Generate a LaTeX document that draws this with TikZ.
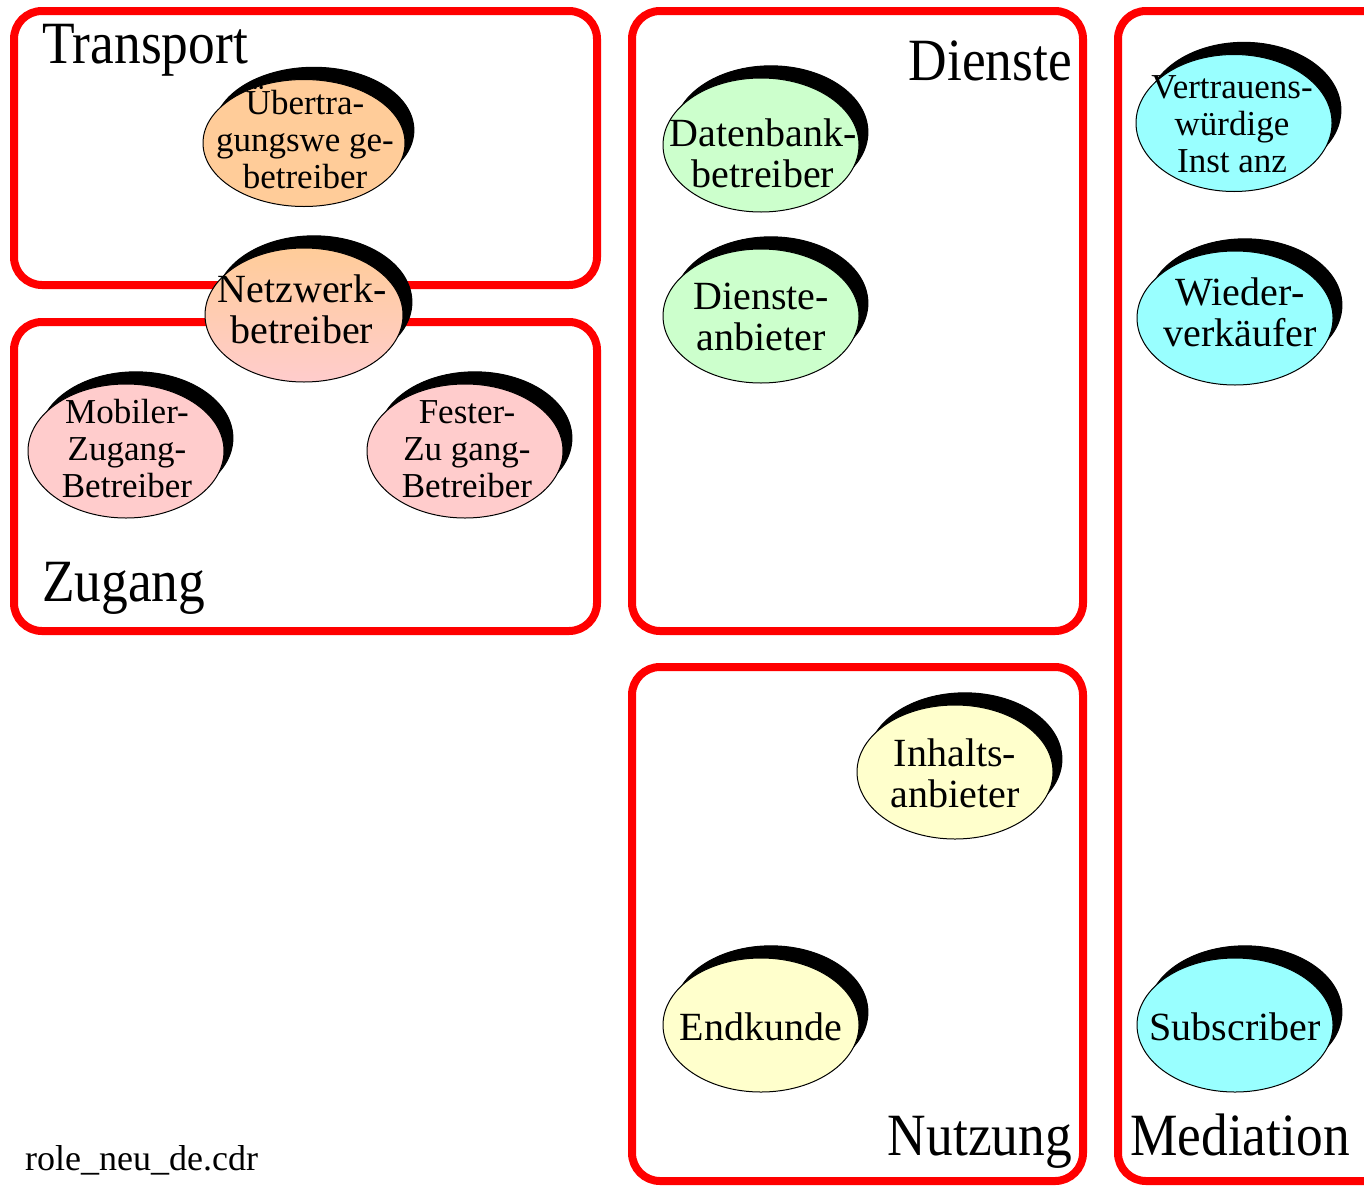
\documentclass[tikz,border=0pt]{standalone}
\usepackage{fontspec}
\setmainfont{Liberation Serif}
\newfontfamily\titlefont[FakeStretch=0.89]{Liberation Serif}
\usetikzlibrary{shapes.geometric,shadows}
\definecolor{peach}{HTML}{FFCC99}
\definecolor{rose}{HTML}{FFCCCC}
\definecolor{mint}{HTML}{CCFFCC}
\definecolor{cream}{HTML}{FFFFCC}
\definecolor{aqua}{HTML}{99FFFF}
\begin{document}
\begin{tikzpicture}[x=1pt,y=-1pt,
  area/.style={draw=red, line width=8pt, rounded corners=28pt},
  role/.style={ellipse, draw=black, line width=1pt, inner sep=0pt,
    minimum width=196pt, minimum height=134pt,
    general shadow={fill=black, draw=black, line width=1pt,
      shadow xshift=10pt, shadow yshift=13pt, shadow scale=0.99}},
  roletext/.style={align=center, inner sep=0pt, font=\fontsize{40}{41}\selectfont},
  smalltext/.style={align=center, inner sep=0pt, font=\fontsize{35}{37}\selectfont},
  areatitle/.style={inner sep=0pt, font=\titlefont\fontsize{60}{60}\selectfont},
]
\useasboundingbox (0,0) rectangle (1364,1186);
\clip (0,0) rectangle (1364,1186);

% domain frames
\draw[area] (14,11) rectangle (597,285);
\draw[area] (14,322) rectangle (597,631);
\draw[area] (632,11) rectangle (1083,631);
\draw[area] (632,667) rectangle (1083,1181);
\draw[area] (1118,11) rectangle (1400,1181);

% frame titles
\node[areatitle, anchor=base west] (ttransport) at (42,63) {Transport};
\node[areatitle, anchor=base west] (tzugang) at (42,601) {Zugang};
\node[areatitle, anchor=base east] (tdienste) at (1072,80) {Dienste};
\node[areatitle, anchor=base east] (tnutzung) at (1072,1155) {Nutzung};
\node[areatitle, anchor=base west] (tmediation) at (1130,1155) {Mediation};

% roles: transport and access
\node[role, fill=peach, minimum width=202pt, minimum height=127pt] (uew) at (304,143) {};
\node[smalltext] (uewt) at (305,137) {Übertra-\\gungswe ge-\\betreiber};

\node[role, top color=peach, bottom color=rose, minimum width=198pt] (nw) at (304,315) {};
\node[roletext] (nwt) at (302,309) {Netzwerk-\\betreiber};

\node[role, fill=rose] (mzb) at (126,451) {};
\node[smalltext] (mzbt) at (127,449) {Mobiler-\\Zugang-\\Betreiber};

\node[role, fill=rose] (fzb) at (465,451) {};
\node[smalltext] (fzbt) at (467,449) {Fester-\\Zu gang-\\Betreiber};

% roles: services
\node[role, fill=mint] (db) at (761,145) {};
\node[roletext] (dbt) at (763,153) {Datenbank-\\betreiber};

\node[role, fill=mint] (da) at (761,316) {};
\node[roletext] (dat) at (761,317) {Dienste-\\anbieter};

% roles: usage
\node[role, fill=cream] (ia) at (955,772) {};
\node[roletext] (iat) at (955,773) {Inhalts-\\anbieter};

\node[role, fill=cream] (ek) at (761,1025) {};
\node[roletext] (ekt) at (761,1027) {Endkunde};

% roles: mediation
\node[role, fill=aqua, minimum height=137pt] (vi) at (1234,123) {};
\node[smalltext] (vit) at (1232,124) {Vertrauens-\\würdige\\Inst anz};

\node[role, fill=aqua] (wv) at (1235,318) {};
\node[roletext] (wvt) at (1240,312) {Wieder-\\verkäufer};

\node[role, fill=aqua] (sub) at (1235,1025) {};
\node[roletext] (subt) at (1235,1027) {Subscriber};

% file name
\node[anchor=base west, inner sep=0pt, font=\fontsize{36}{36}\selectfont] (fname) at (25,1170) {role\_neu\_de.cdr};
\end{tikzpicture}
\end{document}
